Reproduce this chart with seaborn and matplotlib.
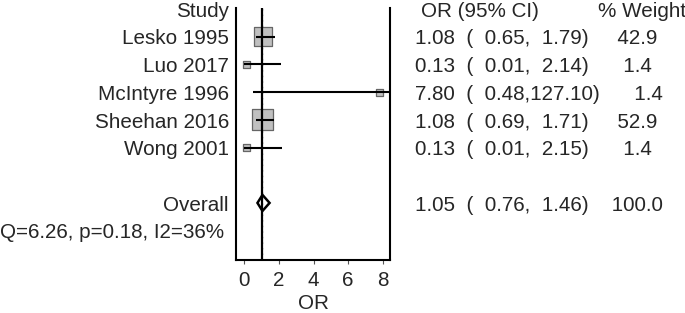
import numpy as np
import pandas as pd
import matplotlib
matplotlib.use("Agg")
import matplotlib.pyplot as plt
import matplotlib.transforms as mtrans
import seaborn as sns

# ---------------- data ----------------
studies = ["Lesko 1995", "Luo 2017", "McIntyre 1996", "Sheehan 2016", "Wong 2001"]
or_est = [1.08, 0.13, 7.80, 1.08, 0.13]
ci_low = [0.65, 0.01, 0.48, 0.69, 0.01]
ci_high = [1.79, 2.14, 127.10, 1.71, 2.15]
weights = [42.9, 1.4, 1.4, 52.9, 1.4]

overall_label = "Overall"
overall_est = 1.05
overall_low = 0.76
overall_high = 1.46
overall_weight = 100.0

het_text = "Q=6.26, p=0.18, I2=36%"
header_study = "Study"
header_or = "OR (95% CI)"
header_weight = "% Weight"
x_ticks = [0, 2, 4, 6, 8]
x_label = "OR"

# ---------------- layout ----------------
W, H = 685, 313
sns.set_theme(style="white")
plt.rcParams["font.family"] = ["Liberation Sans", "DejaVu Sans"]
fs = 14.9

fig = plt.figure(figsize=(W / 100, H / 100), dpi=100)
ax = fig.add_axes([236 / W, 1 - 260 / H, 154 / W, 252 / H])

rows = np.arange(1, len(studies) + 1)
overall_row = len(studies) + 2
het_row = overall_row + 1

df = pd.DataFrame({"study": studies, "or": or_est, "lo": ci_low,
                   "hi": ci_high, "w": weights, "row": rows})
side_px = np.maximum(21 * np.sqrt(df["w"] / max(weights)), 7)
df["s"] = (side_px * 0.72) ** 2

# dotted line at overall estimate
ax.axvline(overall_est, color="#666666", lw=1.0, ls=(0, (1, 3)), zorder=1)

# boxes
sns.scatterplot(data=df, x="or", y="row", marker="s", s=df["s"].values,
                color="#c0c0c0", edgecolor="#666666", linewidth=0.9,
                ax=ax, zorder=2, legend=False)

# confidence intervals
ax.hlines(df["row"], df["lo"], df["hi"], color="black", lw=1.5, zorder=3)

# null line
ax.axvline(1, color="black", lw=1.6, zorder=4)

# overall diamond
dh = 0.29
ax.fill([overall_low, overall_est, overall_high, overall_est],
        [overall_row, overall_row - dh, overall_row, overall_row + dh],
        facecolor="none", edgecolor="black", lw=1.8, zorder=5)

ax.set_xlim(-0.48, 8.42)
ax.set_ylim(9.06, -0.036)
ax.set_xticks(x_ticks)
ax.set_yticks([])
ax.set_xlabel(x_label, fontsize=fs, labelpad=3)
ax.set_ylabel("")
ax.tick_params(axis="x", length=3, width=0.8, color="#555555", pad=5.0,
               labelsize=fs, bottom=True)
for sp in ["left", "right", "bottom"]:
    ax.spines[sp].set_visible(True)
    ax.spines[sp].set_linewidth(1.5)
    ax.spines[sp].set_color("black")
ax.spines["top"].set_visible(False)

trans = mtrans.blended_transform_factory(fig.transFigure, ax.transData)
off = 0.28

def ftext(xpx, row, s, ha="left"):
    ax.text(xpx / W, row + off, s, transform=trans, ha=ha, va="baseline",
            fontsize=fs, clip_on=False)

# headers
ftext(229, 0, header_study, ha="right")
ftext(420.7, 0, header_or)
ftext(598.3, 0, header_weight)

# study rows
for _, r in df.iterrows():
    ftext(229, r["row"], r["study"], ha="right")
    ftext(415, r["row"], f"{r['or']:.2f}  (  {r['lo']:.2f},{r['hi']:6.2f})    {r['w']:5.1f}")

# overall
ftext(229, overall_row, overall_label, ha="right")
ftext(415, overall_row,
      f"{overall_est:.2f}  (  {overall_low:.2f},{overall_high:6.2f})    {overall_weight:5.1f}")

# heterogeneity
ftext(0.5, het_row, het_text)

fig.savefig("out.png", dpi=100)
